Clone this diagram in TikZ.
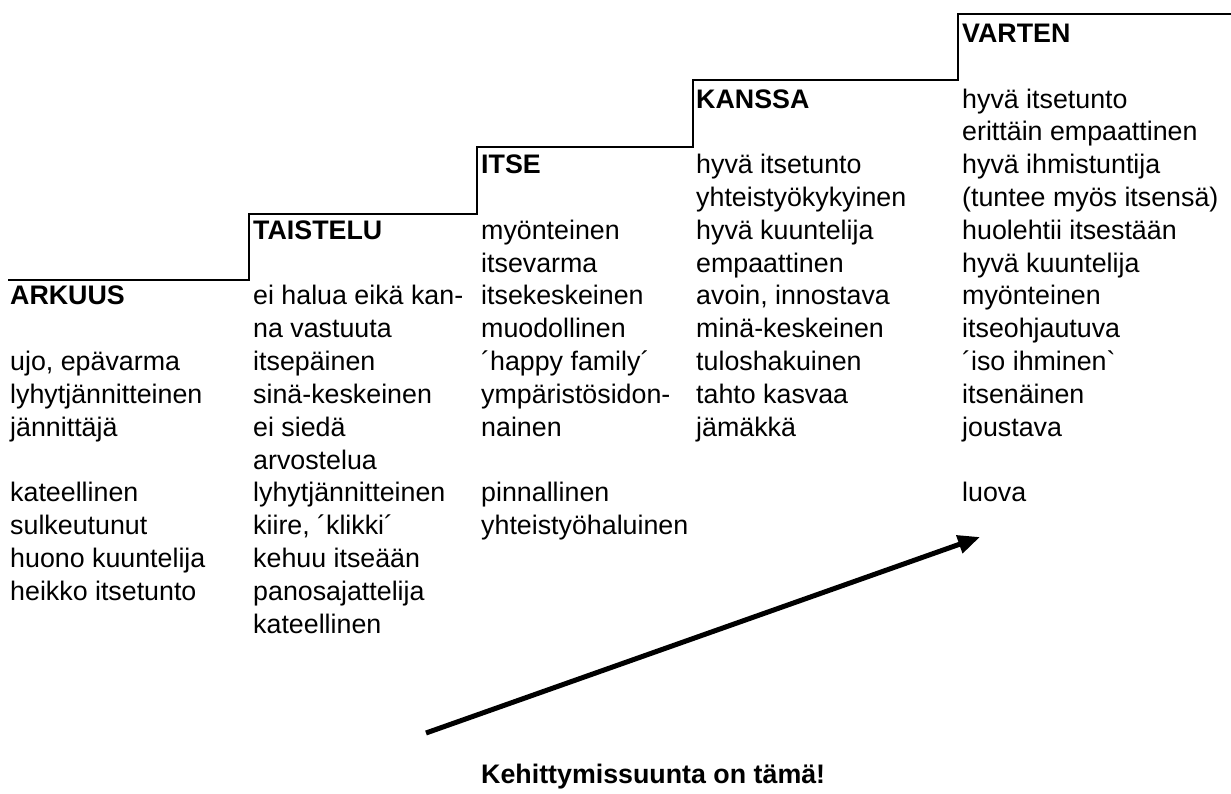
\documentclass[tikz,border=0pt]{standalone}
\usepackage{fontspec}
\setmainfont{Liberation Sans}
\newfontfamily\nolig{Liberation Sans}
\usetikzlibrary{arrows.meta}
\tikzset{
  txt/.style={anchor=base west, inner sep=0pt, font=\fontsize{26.8pt}{32.8pt}\selectfont},
  hdr/.style={txt, font=\fontsize{26.8pt}{32.8pt}\selectfont\bfseries},
  stair/.style={line width=2pt, line join=miter},
  devarrow/.style={line width=5pt, -{Triangle[length=22pt,width=18pt]}}
}
\newcommand\txtcol[3]{%
  \foreach \r/\t in {#3}{\node[txt] (#1\r) at (#2,{305+\r*32.8}) {\t};}}
\begin{document}
\begin{tikzpicture}[x=1pt,y=-1pt]
\path[use as bounding box] (0,0) rectangle (1231,794);
% staircase
\draw[stair] (8,280) -- (249,280) -- (249,214) -- (477,214) -- (477,147)
  -- (693,147) -- (693,80) -- (958,80) -- (958,14) -- (1231,14);
% headers
\node[hdr] (arkuus)   at (10,305) {ARKUUS};
\node[hdr] (taistelu) at (253,{305-2*32.8}) {TAISTELU};
\node[hdr] (itse)     at (481,{305-4*32.8}) {ITSE};
\node[hdr] (kanssa)   at (696,{305-6*32.8}) {KANSSA};
\node[hdr] (varten)   at (962,{305-8*32.8}) {VARTEN};
% columns
\txtcol{a}{10}{2/{ujo, epävarma},3/lyhytjännitteinen,4/jännittäjä,6/kateellinen,
  7/sulkeutunut,8/huono kuuntelija,9/heikko itsetunto}
\txtcol{t}{253}{0/ei halua eikä kan-,1/na vastuuta,2/itsepäinen,3/sinä-keskeinen,
  4/ei siedä,5/arvostelua,6/lyhytjännitteinen,7/{kiire, ´klikki´},8/kehuu itseään,
  9/panosajattelija,10/kateellinen}
\txtcol{i}{481}{-2/myönteinen,-1/itsevarma,0/itsekeskeinen,1/muodollinen,
  2/´happy family´,3/ympäristösidon-,4/nainen,6/pinnallinen,7/yhteistyöhaluinen}
\txtcol{k}{696}{-4/hyvä itsetunto,-3/yhteistyökykyinen,-2/hyvä kuuntelija,
  -1/empaattinen,0/{avoin, innostava},1/minä-keskeinen,2/tuloshakuinen,
  3/tahto kasvaa,4/jämäkkä}
\txtcol{v}{962}{-6/hyvä itsetunto,-5/erittäin empaattinen,-4/hyvä ihmistuntija,
  -3/(tuntee myös itsensä),-2/huolehtii itsestään,-1/hyvä kuuntelija,
  0/myönteinen,1/itseohjautuva,2/{´iso ihminen{\nolig `}},3/itsenäinen,4/joustava,6/luova}
% development arrow
\coordinate (tail) at (426,733);
\coordinate (tip) at (980,537);
\draw[devarrow] (tail) -- (tip);
\node[hdr] (suunta) at (481,783) {Kehittymissuunta on tämä!};
\end{tikzpicture}
\end{document}
